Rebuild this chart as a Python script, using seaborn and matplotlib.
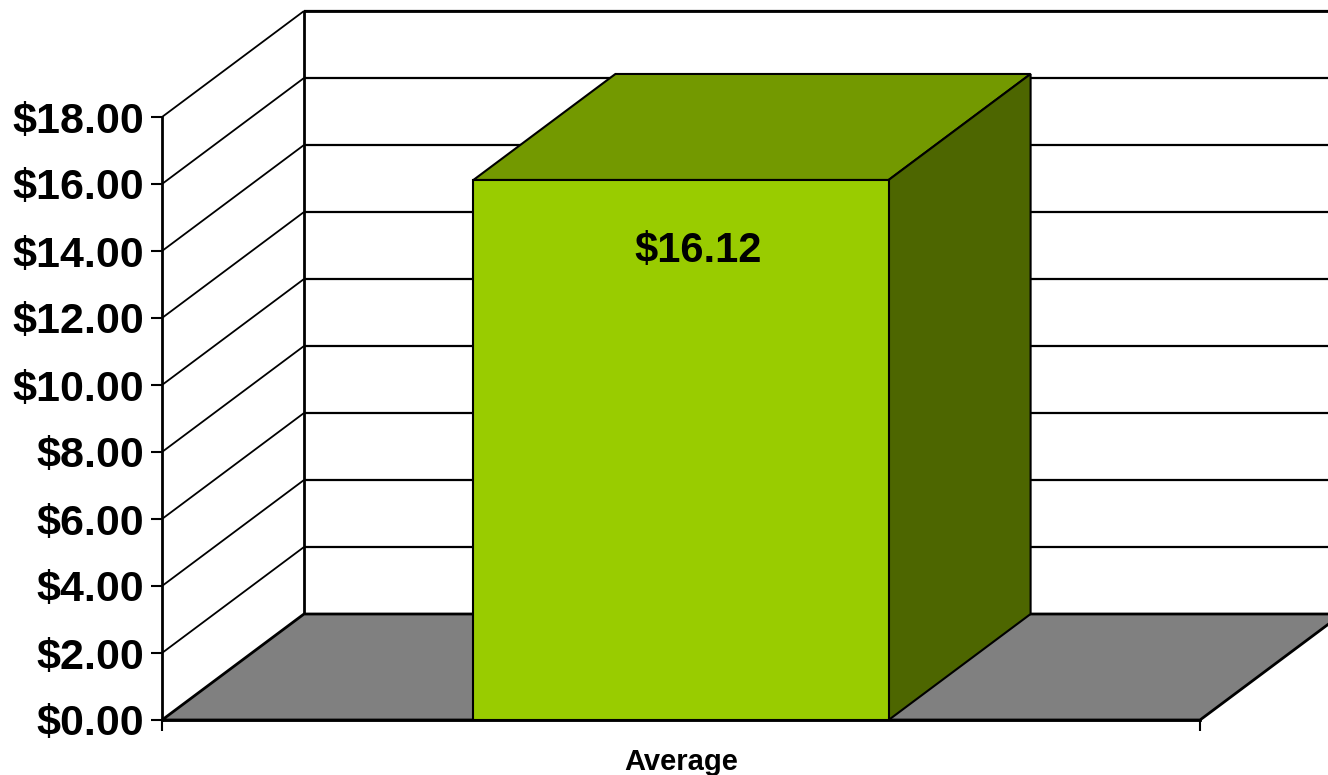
"""
Gráfico de barra 3D simulada: precio promedio.
"""

import matplotlib.pyplot as plt
from matplotlib.patches import Polygon
from matplotlib.ticker import FuncFormatter, FixedLocator
import seaborn as sns

# Datos
categorias = ['Average']
valores = [16.12]
ticks_y = [0, 2, 4, 6, 8, 10, 12, 14, 16, 18]

# Estilo
COLOR_FRENTE = '#99CC00'
COLOR_TECHO = '#739900'
COLOR_LADO = '#4D6600'
COLOR_PISO = '#808080'
PROF_PX = (142, 106)  # desplazamiento de profundidad en pixeles


def configurar_estilo():
    sns.set_style("white")
    plt.rcParams['font.family'] = ['Liberation Sans', 'DejaVu Sans']
    plt.rcParams['font.weight'] = 'bold'
    for clave in ['text.color', 'xtick.color', 'ytick.color', 'axes.labelcolor']:
        plt.rcParams[clave] = 'black'


def poligono(ax, puntos, color, lw=1.5, z=1):
    ax.add_patch(Polygon(puntos, closed=True, facecolor=color, edgecolor='black',
                         linewidth=lw, clip_on=False, zorder=z))


def linea(ax, xs, ys, lw=1.3, z=1):
    ax.plot(xs, ys, color='black', linewidth=lw, clip_on=False, zorder=z,
            solid_capstyle='butt')


configurar_estilo()

fig = plt.figure(figsize=(13.28, 7.75), dpi=100)
ax = fig.add_axes([162 / 1328, 55 / 775, 1038 / 1328, 603 / 775])
ax.patch.set_visible(False)

sns.barplot(x=categorias, y=valores, color=COLOR_FRENTE, width=0.4,
            edgecolor='black', linewidth=1.5, saturation=1, ax=ax, zorder=5)

ax.set_xlim(-0.5, len(categorias) - 0.5)
ax.set_ylim(ticks_y[0], ticks_y[-1])
fig.canvas.draw()

# profundidad en unidades de datos
origen = ax.transData.transform((0, 0))
fin = ax.transData.inverted().transform((origen[0] + PROF_PX[0], origen[1] + PROF_PX[1]))
ddx, ddy = fin[0], fin[1]

x0, x1 = ax.get_xlim()
ymax = ticks_y[-1]

# piso
poligono(ax, [(x0, 0), (x1, 0), (x1 + ddx, ddy), (x0 + ddx, ddy)], COLOR_PISO, lw=2, z=1)

# paredes: líneas de la grilla
for t in ticks_y[1:]:
    linea(ax, [x0, x0 + ddx], [t, t + ddy], lw=1.3)
    linea(ax, [x0 + ddx, x1 + ddx], [t + ddy, t + ddy], lw=1.6)
linea(ax, [x0 + ddx, x0 + ddx], [ddy, ymax + ddy], lw=2)
linea(ax, [x0 + ddx, x1 + ddx], [ymax + ddy, ymax + ddy], lw=2)

# caras 3D de las barras
barras = [p for p in ax.patches if p.get_zorder() == 5]
for barra in barras:
    bx0 = barra.get_x()
    bx1 = bx0 + barra.get_width()
    h = barra.get_height()
    poligono(ax, [(bx0, h), (bx1, h), (bx1 + ddx, h + ddy), (bx0 + ddx, h + ddy)],
             COLOR_TECHO, z=4)
    poligono(ax, [(bx1, 0), (bx1 + ddx, ddy), (bx1 + ddx, h + ddy), (bx1, h)],
             COLOR_LADO, z=4)

for cat, val in zip(range(len(categorias)), valores):
    ax.annotate(f'${val:.2f}', xy=(cat, val), xytext=(12, -51), textcoords='offset points',
                ha='center', va='center', fontsize=30, fontweight='bold', zorder=6)

# ejes
sns.despine(ax=ax, top=True, right=True)
for lado in ['left', 'bottom']:
    ax.spines[lado].set_linewidth(2)
    ax.spines[lado].set_color('black')
    ax.spines[lado].set_zorder(6)

ax.yaxis.set_major_locator(FixedLocator(ticks_y))
ax.yaxis.set_major_formatter(FuncFormatter(lambda v, p: f'${v:.2f}'))
ax.tick_params(axis='y', which='major', direction='out', length=8, width=1.5,
               pad=5, labelsize=31, left=True)
for lbl in ax.get_yticklabels():
    lbl.set_fontweight('bold')

ax.set_xticks(range(len(categorias)))
ax.set_xticklabels(categorias, fontsize=21, fontweight='bold')
ax.set_xticks([x0, x1], minor=True)
ax.tick_params(axis='x', which='major', length=0, pad=20)
ax.tick_params(axis='x', which='minor', direction='out', length=8, width=1.5, bottom=True)
ax.set_xlabel('')
ax.set_ylabel('')

fig.savefig('out.png', dpi=100)
